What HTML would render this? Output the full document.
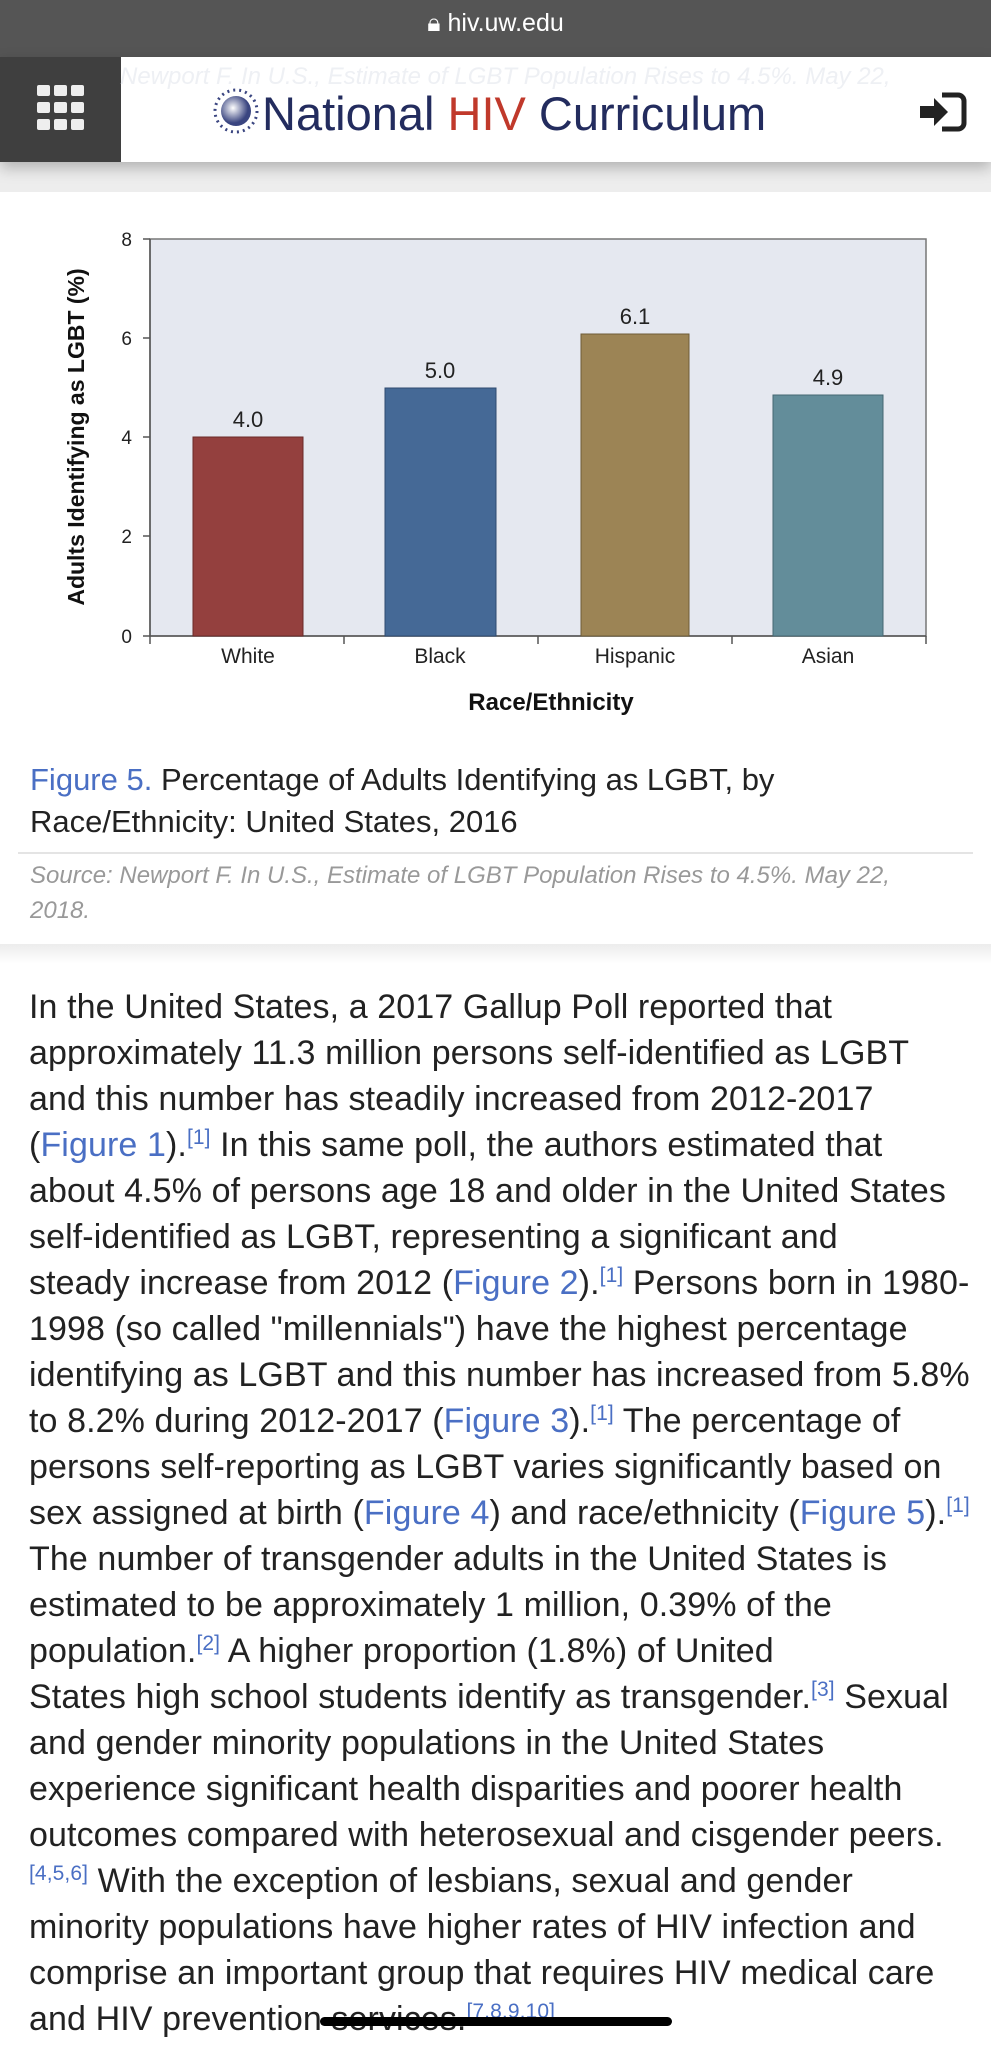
<!DOCTYPE html>
<html><head><meta charset="utf-8">
<style>
*{margin:0;padding:0;box-sizing:border-box}
body{width:991px;height:2048px;overflow:hidden;background:#fff;font-family:"Liberation Sans",sans-serif;position:relative}
.status{position:absolute;left:0;top:0;width:991px;height:57px;background:#555;color:#fff;font-size:25px;text-align:center;line-height:46px}
.hdr{position:absolute;left:0;top:57px;width:991px;height:105px;background:#fff;box-shadow:0 6px 14px rgba(0,0,0,0.25);z-index:2}
.menu{position:absolute;left:0;top:0;width:121px;height:105px;background:#3f3f3f}
.ghost{position:absolute;left:120px;top:6px;color:#eef0f4;font-style:italic;font-size:24px;white-space:nowrap}
.logo{position:absolute;left:262px;top:29px;font-size:47px;color:#232c5e;white-space:nowrap;letter-spacing:0px}
.graybg{position:absolute;left:0;top:162px;width:991px;height:30px;background:#ededed}
.body p{position:absolute;left:29px;font-size:34px;color:#222;white-space:nowrap;letter-spacing:0.1px;line-height:40px}
a{color:#4a6fc4;text-decoration:none}
sup{font-size:21px;color:#4a6fc4;vertical-align:12px;line-height:0}
</style></head><body>
<div class="status">&#128274;&#xFE0E; hiv.uw.edu</div>
<div class="graybg"></div>
<div class="hdr">
 <div class="menu">
  <svg width="121" height="105"><g fill="#eee">
  <rect x="37" y="28" width="13" height="11" rx="2"/><rect x="54" y="28" width="13" height="11" rx="2"/><rect x="71" y="28" width="13" height="11" rx="2"/>
  <rect x="37" y="45" width="13" height="11" rx="2"/><rect x="54" y="45" width="13" height="11" rx="2"/><rect x="71" y="45" width="13" height="11" rx="2"/>
  <rect x="37" y="62" width="13" height="11" rx="2"/><rect x="54" y="62" width="13" height="11" rx="2"/><rect x="71" y="62" width="13" height="11" rx="2"/></g></svg>
 </div>
 <div class="ghost">Newport F. In U.S., Estimate of LGBT Population Rises to 4.5%. May 22,</div>
 <svg style="position:absolute;left:212px;top:30px" width="48" height="48"><defs><radialGradient id="g" cx="40%" cy="40%"><stop offset="0" stop-color="#fff"/><stop offset="1" stop-color="#3a4580"/></radialGradient></defs><circle cx="24" cy="24" r="15" fill="url(#g)"/><circle cx="24" cy="24" r="21" fill="none" stroke="#3a4580" stroke-width="3" stroke-dasharray="2 4"/></svg>
 <div class="logo">National <span style="color:#c0392b">HIV</span> Curriculum</div>
 <svg style="position:absolute;left:918px;top:34px" width="50" height="42"><path d="M2 15h14v-8l14 14-14 14v-8H2z" fill="#222"/><path d="M24 4h16a6 6 0 0 1 6 6v22a6 6 0 0 1-6 6H24" fill="none" stroke="#222" stroke-width="5"/></svg>
</div>

<svg style="position:absolute;left:0;top:192px" width="991" height="752">
 <rect x="0" y="0" width="991" height="752" fill="#fff"/>
 <rect x="150" y="47" width="776" height="397" fill="#e5e8f0" stroke="#777" stroke-width="1.5"/>
 <g stroke="#555" stroke-width="1.5">
  <line x1="150" y1="47" x2="150" y2="452"/>
  <line x1="143" y1="47" x2="150" y2="47"/><line x1="143" y1="146" x2="150" y2="146"/><line x1="143" y1="245" x2="150" y2="245"/><line x1="143" y1="344" x2="150" y2="344"/><line x1="143" y1="444" x2="926" y2="444"/>
  <line x1="344" y1="444" x2="344" y2="452"/><line x1="538" y1="444" x2="538" y2="452"/><line x1="732" y1="444" x2="732" y2="452"/><line x1="926" y1="444" x2="926" y2="452"/>
 </g>
 <g font-size="19" fill="#222" text-anchor="end">
  <text x="132" y="54">8</text><text x="132" y="153">6</text><text x="132" y="252">4</text><text x="132" y="351">2</text><text x="132" y="451">0</text>
 </g>
 <rect x="193" y="245" width="110" height="199" fill="#94403e" stroke="#6a2a28"/>
 <rect x="385" y="196" width="111" height="248" fill="#456996" stroke="#2e4a70"/>
 <rect x="581" y="142" width="108" height="302" fill="#9c8455" stroke="#6e5c38"/>
 <rect x="773" y="203" width="110" height="241" fill="#638d9a" stroke="#456772"/>
 <g font-size="22" fill="#222" text-anchor="middle">
  <text x="248" y="235">4.0</text><text x="440" y="186">5.0</text><text x="635" y="132">6.1</text><text x="828" y="193">4.9</text>
 </g>
 <g font-size="21" fill="#222" text-anchor="middle">
  <text x="248" y="471">White</text><text x="440" y="471">Black</text><text x="635" y="471">Hispanic</text><text x="828" y="471">Asian</text>
 </g>
 <text x="551" y="518" font-size="24" font-weight="bold" text-anchor="middle" fill="#111">Race/Ethnicity</text>
 <text transform="translate(84,245) rotate(-90)" font-size="23" font-weight="bold" text-anchor="middle" fill="#111">Adults Identifying as LGBT (%)</text>
 <text x="30" y="598" font-size="31" fill="#222"><tspan fill="#4a6fc4">Figure 5.</tspan> Percentage of Adults Identifying as LGBT, by</text>
 <text x="30" y="640" font-size="31" fill="#222">Race/Ethnicity: United States, 2016</text>
 <line x1="18" y1="661" x2="973" y2="661" stroke="#e4e4e4" stroke-width="2"/>
 <text x="30" y="691" font-size="24" font-style="italic" fill="#999">Source: Newport F. In U.S., Estimate of LGBT Population Rises to 4.5%. May 22,</text>
 <text x="30" y="726" font-size="24" font-style="italic" fill="#999">2018.</text>
</svg>
<div style="position:absolute;left:0;top:944px;width:991px;height:20px;background:linear-gradient(#ececec,#fff)"></div>

<div class="body">
<p style="top:987px">In the United States, a 2017 Gallup Poll reported that</p>
<p style="top:1033px">approximately 11.3 million persons self-identified as LGBT</p>
<p style="top:1079px">and this number has steadily increased from 2012-2017</p>
<p style="top:1125px">(<a>Figure 1</a>).<sup>[1]</sup> In this same poll, the authors estimated that</p>
<p style="top:1171px">about 4.5% of persons age 18 and older in the United States</p>
<p style="top:1217px">self-identified as LGBT, representing a significant and</p>
<p style="top:1263px">steady increase from 2012 (<a>Figure 2</a>).<sup>[1]</sup> Persons born in 1980-</p>
<p style="top:1309px">1998 (so called "millennials") have the highest percentage</p>
<p style="top:1355px">identifying as LGBT and this number has increased from 5.8%</p>
<p style="top:1401px">to 8.2% during 2012-2017 (<a>Figure 3</a>).<sup>[1]</sup> The percentage of</p>
<p style="top:1447px">persons self-reporting as LGBT varies significantly based on</p>
<p style="top:1493px">sex assigned at birth (<a>Figure 4</a>) and race/ethnicity (<a>Figure 5</a>).<sup>[1]</sup></p>
<p style="top:1539px">The number of transgender adults in the United States is</p>
<p style="top:1585px">estimated to be approximately 1 million, 0.39% of the</p>
<p style="top:1631px">population.<sup>[2]</sup> A higher proportion (1.8%) of United</p>
<p style="top:1677px">States high school students identify as transgender.<sup>[3]</sup> Sexual</p>
<p style="top:1723px">and gender minority populations in the United States</p>
<p style="top:1769px">experience significant health disparities and poorer health</p>
<p style="top:1815px">outcomes compared with heterosexual and cisgender peers.</p>
<p style="top:1861px"><sup>[4,5,6]</sup> With the exception of lesbians, sexual and gender</p>
<p style="top:1907px">minority populations have higher rates of HIV infection and</p>
<p style="top:1953px">comprise an important group that requires HIV medical care</p>
<p style="top:1999px">and HIV prevention services.<sup>[7,8,9,10]</sup></p>
</div>
<div style="position:absolute;left:320px;top:2017px;width:352px;height:9px;border-radius:5px;background:#000"></div>
</body></html>
